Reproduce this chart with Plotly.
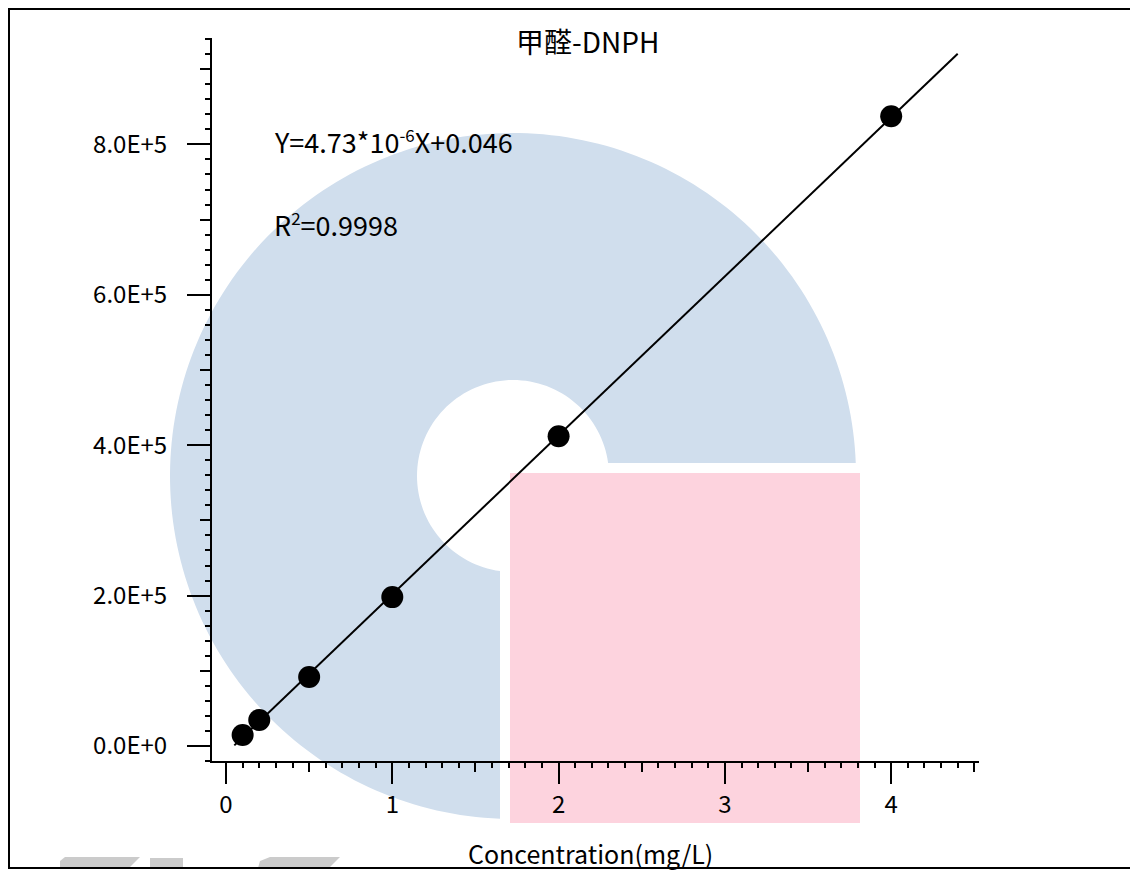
import numpy as np
import plotly.graph_objects as go

# calibration data for 甲醛-DNPH
conc = [0.1, 0.2, 0.5, 1, 2, 4]
area = [14600, 34600, 91800, 198000, 412000, 837500]

slope_inv = 4.73e-6
intercept = 0.046
line_x = [0.05, 4.4]
line_y = [(v - intercept) / slope_inv for v in line_x]

ytick_vals = [0, 200000, 400000, 600000, 800000]
ytick_text = ['0.0E+0', '2.0E+5', '4.0E+5', '6.0E+5', '8.0E+5']
xtick_vals = [0, 1, 2, 3, 4]
xtick_text = ['0', '1', '2', '3', '4']

FONT = 'Noto Sans CJK SC'
# page puts the figure 8px in from the window corner
OFF = 8
W, H = 1138 - OFF, 870 - OFF
L, R, T, B = 212, 979, 38, 761   # plot area in window pixels


def px(x):
    return (x - L) / (R - L)


def py(y):
    return (B - y) / (B - T)


def path(points):
    return 'M ' + ' L '.join('%.5f,%.5f' % (px(a), py(b)) for a, b in points) + ' Z'


fig = go.Figure()
fig.add_trace(go.Scatter(x=line_x, y=line_y, mode='lines',
                         line=dict(color='black', width=2), showlegend=False))
fig.add_trace(go.Scatter(x=conc, y=area, mode='markers',
                         marker=dict(color='black', size=22), showlegend=False))
# dummy trace so the overlay axes (medium ticks) get drawn
fig.add_trace(go.Scatter(x=[None], y=[None], xaxis='x2', yaxis='y2', showlegend=False))

xr = [-0.0842, 4.528]
yr = [-19950, 941500]

fig.update_layout(
    width=W, height=H,
    margin=dict(l=L - OFF, r=W - (R - OFF), t=T - OFF, b=H - (B - OFF)),
    paper_bgcolor='white', plot_bgcolor='rgba(0,0,0,0)',
    font=dict(family=FONT, color='black', size=24),
    xaxis=dict(range=xr, showgrid=False, zeroline=False, showline=True, linecolor='black', linewidth=2,
               ticks='outside', ticklen=21, tickwidth=2, tickcolor='black',
               tickvals=xtick_vals, ticktext=xtick_text, tickfont=dict(size=24),
               minor=dict(dtick=0.1, tick0=0, ticks='outside', ticklen=5, tickwidth=2, tickcolor='black')),
    yaxis=dict(range=yr, showgrid=False, zeroline=False, showline=True, linecolor='black', linewidth=2,
               ticks='outside', ticklen=23, tickwidth=2, tickcolor='black',
               tickvals=ytick_vals, ticktext=ytick_text, tickfont=dict(size=24), ticklabelstandoff=15,
               minor=dict(dtick=20000, tick0=0, ticks='outside', ticklen=5, tickwidth=2, tickcolor='black')),
    xaxis2=dict(range=xr, overlaying='x', anchor='y2', showgrid=False, zeroline=False, showline=False,
                ticks='outside', ticklen=10, tickwidth=2, tickcolor='black', dtick=0.5, tick0=0,
                showticklabels=False),
    yaxis2=dict(range=yr, overlaying='y', anchor='x2', showgrid=False, zeroline=False, showline=False,
                ticks='outside', ticklen=11, tickwidth=2, tickcolor='black', dtick=100000, tick0=0,
                showticklabels=False),
)

# watermark: blue 3/4 ring, pink square, grey letter tops
cx, cy, ro, ri = 513, 476, 343, 96
# from just above east, counterclockwise round to just left of south
outer = [(cx + ro * np.cos(t), cy - ro * np.sin(t))
         for t in np.linspace(np.arcsin(13 / ro), 1.5 * np.pi - np.arcsin(13 / ro), 200)]
inner = [(cx + ri * np.cos(t), cy - ri * np.sin(t))
         for t in np.linspace(1.5 * np.pi - np.arcsin(13 / ri), np.arcsin(13 / ri), 100)]
grey = '#cbcbcb'
shapes = [
    dict(type='path', xref='paper', yref='paper', path=path(outer + inner),
         fillcolor='#d0deed', line=dict(width=0), layer='below'),
    dict(type='rect', xref='paper', yref='paper', x0=px(510), x1=px(860), y0=py(473), y1=py(823),
         fillcolor='#fdd3de', line=dict(width=0), layer='below'),
    dict(type='path', xref='paper', yref='paper',
         path=path([(60, 868), (60, 861), (65, 857), (140, 857), (129, 868)]),
         fillcolor=grey, line=dict(width=0), layer='below'),
    dict(type='path', xref='paper', yref='paper',
         path=path([(150, 868), (150, 858), (183, 858), (183, 868)]),
         fillcolor=grey, line=dict(width=0), layer='below'),
    dict(type='path', xref='paper', yref='paper',
         path=path([(258, 868), (260, 861), (270, 857), (340, 857), (329, 868)]),
         fillcolor=grey, line=dict(width=0), layer='below'),
    dict(type='rect', xref='paper', yref='paper', x0=px(9), x1=px(1160), y0=py(868), y1=py(9),
         line=dict(color='black', width=2), fillcolor='rgba(0,0,0,0)', layer='above'),
]
fig.update_layout(shapes=shapes)

sup = '<sup><span style="font-size:17px">%s</span></sup>'
fig.add_annotation(xref='paper', yref='paper', x=px(587), y=py(41), text='甲醛-DNPH',
                   showarrow=False, xanchor='center', yanchor='middle', font=dict(size=28))
fig.add_annotation(xref='paper', yref='paper', x=px(272), y=py(141),
                   text='Y=4.73*10' + sup % '-6' + 'X+0.046',
                   showarrow=False, xanchor='left', yanchor='middle', font=dict(size=27))
fig.add_annotation(xref='paper', yref='paper', x=px(272), y=py(225), text='R' + sup % '2' + '=0.9998',
                   showarrow=False, xanchor='left', yanchor='middle', font=dict(size=27))
fig.add_annotation(xref='paper', yref='paper', x=px(590), y=py(853), text='Concentration(mg/L)',
                   showarrow=False, xanchor='center', yanchor='middle', font=dict(size=25))

fig.write_html('out.html')
